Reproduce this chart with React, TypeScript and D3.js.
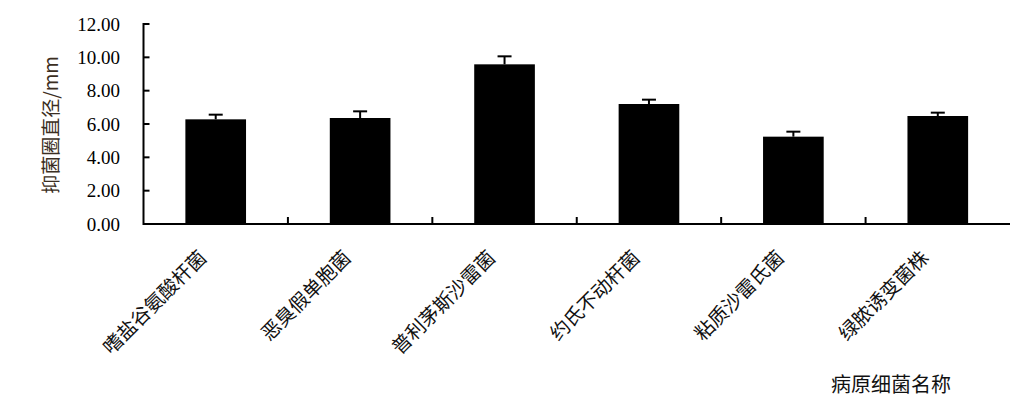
import React from "react";
import * as d3 from "d3";

const categories = ["嗜盐谷氨酸杆菌", "恶臭假单胞菌", "普利茅斯沙雷菌", "约氏不动杆菌", "粘质沙雷氏菌", "绿脓诱变菌株"];
const values = [6.28, 6.36, 9.58, 7.2, 5.24, 6.48];
const errors = [0.28, 0.4, 0.48, 0.26, 0.3, 0.2];
const yTicks = [0, 2, 4, 6, 8, 10, 12];
const yTitle = "抑菌圈直径/mm";
const xTitle = "病原细菌名称";

const W = 1028, H = 405;
const left = 143.5, right = 1010, top = 24, bottom = 224;
const serif = "'Liberation Serif', 'Times New Roman', serif";
const cjk = "'Noto Sans CJK SC', sans-serif";

export default function App() {
  const x = d3.scaleBand<string>().domain(categories).range([left, right]).paddingInner(0).paddingOuter(0);
  const y = d3.scaleLinear().domain([0, 12]).range([bottom, top]);
  const bw = x.bandwidth() * 0.42;
  const boundaries = categories.map((c) => (x(c) as number) + x.bandwidth()).slice(0, -1);
  return (
    <svg width={W} height={H} style={{ position: "absolute", left: 0, top: 0, background: "#fff" }}>
      {categories.map((c, i) => {
        const cx = (x(c) as number) + x.bandwidth() / 2;
        return (
          <g key={c}>
            <rect x={cx - bw / 2} y={y(values[i])} width={bw} height={y(0) - y(values[i])} fill="#000" />
            <line x1={cx} x2={cx} y1={y(values[i])} y2={y(values[i] + errors[i])} stroke="#000" strokeWidth={2} />
            <line x1={cx - 7} x2={cx + 7} y1={y(values[i] + errors[i])} y2={y(values[i] + errors[i])} stroke="#000" strokeWidth={2} />
          </g>
        );
      })}
      <line x1={left} x2={left} y1={top - 1} y2={bottom + 1} stroke="#000" strokeWidth={2} />
      {yTicks.map((t) => (
        <g key={t}>
          <line x1={left} x2={left + 6} y1={y(t)} y2={y(t)} stroke="#000" strokeWidth={2} />
          <text x={120} y={y(t) + 6.5} textAnchor="end" fontFamily={serif} fontSize={19} fill="#000">
            {t.toFixed(2)}
          </text>
        </g>
      ))}
      <line x1={left} x2={right} y1={bottom} y2={bottom} stroke="#000" strokeWidth={2} />
      {boundaries.map((b, i) => (
        <line key={i} x1={b} x2={b} y1={bottom} y2={bottom - 7} stroke="#000" strokeWidth={2} />
      ))}
      {categories.map((c) => {
        const cx = (x(c) as number) + x.bandwidth() / 2;
        return (
          <text key={c} transform={`translate(${cx - 8},${259}) rotate(-45)`} textAnchor="end"
            fontFamily={cjk} fontSize={19.5} fill="#111">
            {c}
          </text>
        );
      })}
      <text x={891} y={392} textAnchor="middle" fontFamily={cjk} fontSize={20} fill="#111">{xTitle}</text>
      <text transform={`translate(58,125) rotate(-90)`} textAnchor="middle" fontFamily={cjk} fontSize={19} fill="#3b2e22">
        {yTitle}
      </text>
    </svg>
  );
}
